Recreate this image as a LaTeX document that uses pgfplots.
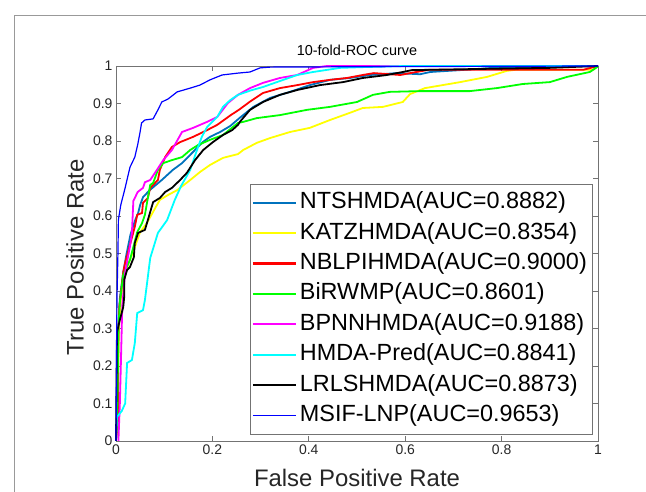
\documentclass[border=0pt]{standalone}
\usepackage{pgfplots}
\pgfplotsset{compat=1.18}
\usepackage{fontspec}
\setmainfont{Liberation Sans}
\definecolor{ntsblue}{rgb}{0,0.447,0.741}
\definecolor{cY}{rgb}{1,1,0}
\definecolor{cR}{rgb}{1,0,0}
\definecolor{cG}{rgb}{0,1,0}
\definecolor{cM}{rgb}{1,0,1}
\definecolor{cC}{rgb}{0,1,1}
\definecolor{cK}{rgb}{0,0,0}
\definecolor{cB}{rgb}{0,0,1}
\definecolor{axgray}{rgb}{0.45,0.45,0.45}
\definecolor{lblgray}{rgb}{0.15,0.15,0.15}
\pgfplotsset{
  limg/.style 2 args={legend image code/.code={\draw[#1,line width=#2] (0bp,0bp) -- (43bp,0bp);}},
}
\begin{document}
\begin{tikzpicture}[x=1bp,y=1bp]
\path[use as bounding box] (0,0) rectangle (646,492);
\draw[black!40,line width=0.8bp] (14,0) -- (14,477) -- (646,477);
\begin{axis}[
  at={(116bp,51bp)}, anchor=south west,
  scale only axis, width=482bp, height=375bp,
  xmin=0, xmax=1, ymin=0, ymax=1,
  clip=false,
  xtick={0,0.2,0.4,0.6,0.8,1},
  ytick={0,0.1,0.2,0.3,0.4,0.5,0.6,0.7,0.8,0.9,1},
  xticklabels={0,0.2,0.4,0.6,0.8,1},
  yticklabels={0,0.1,0.2,0.3,0.4,0.5,0.6,0.7,0.8,0.9,1},
  tick align=inside,
  major tick length=5bp,
  axis line style={axgray,line width=0.7bp},
  tick style={axgray,line width=0.7bp},
  /pgf/number format/assume math mode=true,
  ticklabel style={font=\fontsize{14}{16}\selectfont, text=lblgray},
  title={10-fold-ROC curve},
  title style={at={(axis description cs:0.5,1)}, anchor=base, yshift=4.5bp, font=\fontsize{14.5}{16}\selectfont, text=black},
  xlabel={False Positive Rate},
  xlabel style={at={(axis description cs:0.5,-0.122)}, anchor=base, font=\fontsize{24}{28}\selectfont, text=lblgray},
  ylabel={True Positive Rate},
  ylabel style={at={(axis description cs:-0.085,0.49)}, anchor=center, font=\fontsize{24}{28}\selectfont, text=lblgray},
  legend cell align=left,
  legend style={at={(rel axis cs:0.9876,0.0187)}, anchor=south east,
    draw=axgray, fill=white,
    font=\fontsize{23.5}{28}\selectfont,
    inner xsep=2bp, inner ysep=3bp, row sep=0pt,
    nodes={inner xsep=3bp, inner ysep=4.2bp, text height=17bp, text depth=5bp}},
]
\addplot[ntsblue, line width=1.8bp, limg={ntsblue}{2.2bp}] coordinates {
(0,0)(0.003,0.1)(0.005,0.3)(0.008,0.38)(0.015,0.45)(0.022,0.5)(0.030,0.55)(0.040,0.59)(0.046,0.608)(0.050,0.629)(0.056,0.65)(0.070,0.669)(0.095,0.696)(0.118,0.723)(0.137,0.741)(0.160,0.771)(0.180,0.797)(0.195,0.811)(0.216,0.824)(0.237,0.840)(0.257,0.862)(0.285,0.891)(0.320,0.915)(0.361,0.931)(0.402,0.949)(0.444,0.963)(0.485,0.968)(0.527,0.976)(0.583,0.981)(0.631,0.978)(0.652,0.984)(0.714,0.989)(0.782,0.995)(0.85,0.997)(1,1)};
\addlegendentry{NTSHMDA(AUC=0.8882)}
\addplot[cY, line width=1.8bp, limg={cY}{2.2bp}] coordinates {
(0,0)(0.003,0.1)(0.006,0.3)(0.010,0.38)(0.019,0.45)(0.029,0.483)(0.039,0.517)(0.050,0.557)(0.064,0.581)(0.077,0.611)(0.091,0.643)(0.108,0.656)(0.127,0.669)(0.149,0.691)(0.154,0.696)(0.174,0.717)(0.195,0.736)(0.222,0.755)(0.253,0.765)(0.264,0.776)(0.292,0.795)(0.320,0.808)(0.361,0.824)(0.402,0.835)(0.444,0.856)(0.485,0.875)(0.512,0.888)(0.554,0.891)(0.595,0.904)(0.610,0.925)(0.641,0.941)(0.714,0.957)(0.770,0.971)(0.811,0.987)(0.83,0.99)(0.99,0.99)(1,1)};
\addlegendentry{KATZHMDA(AUC=0.8354)}
\addplot[cR, line width=1.8bp, limg={cR}{2.2bp}] coordinates {
(0,0)(0.004,0.05)(0.005,0.3)(0.007,0.36)(0.015,0.45)(0.019,0.475)(0.025,0.504)(0.039,0.571)(0.044,0.603)(0.054,0.608)(0.056,0.635)(0.066,0.648)(0.071,0.675)(0.087,0.696)(0.091,0.723)(0.102,0.757)(0.116,0.784)(0.133,0.797)(0.160,0.811)(0.189,0.829)(0.210,0.843)(0.237,0.868)(0.257,0.885)(0.278,0.905)(0.305,0.928)(0.340,0.941)(0.376,0.949)(0.409,0.957)(0.444,0.963)(0.479,0.968)(0.512,0.976)(0.535,0.981)(0.59,0.976)(0.61,0.981)(0.65,0.99)(0.97,0.99)(1,1)};
\addlegendentry{NBLPIHMDA(AUC=0.9000)}
\addplot[cG, line width=1.8bp, limg={cG}{2.2bp}] coordinates {
(0,0)(0.003,0.1)(0.005,0.3)(0.008,0.37)(0.015,0.443)(0.029,0.483)(0.044,0.557)(0.054,0.581)(0.060,0.603)(0.066,0.648)(0.071,0.683)(0.077,0.688)(0.087,0.723)(0.098,0.741)(0.116,0.749)(0.137,0.757)(0.154,0.776)(0.170,0.789)(0.195,0.803)(0.222,0.816)(0.253,0.848)(0.264,0.851)(0.292,0.861)(0.340,0.869)(0.396,0.883)(0.444,0.891)(0.500,0.904)(0.533,0.923)(0.568,0.931)(0.631,0.933)(0.734,0.933)(0.790,0.941)(0.844,0.952)(0.900,0.957)(0.936,0.971)(0.983,0.984)(0.998,0.997)(1,1)};
\addlegendentry{BiRWMP(AUC=0.8601)}
\addplot[cM, line width=1.8bp, limg={cM}{2.2bp}] coordinates {
(0.005,0)(0.008,0.1)(0.010,0.2)(0.013,0.36)(0.019,0.45)(0.029,0.52)(0.033,0.555)(0.036,0.64)(0.045,0.664)(0.056,0.675)(0.060,0.69)(0.071,0.696)(0.085,0.723)(0.098,0.749)(0.116,0.776)(0.137,0.824)(0.160,0.835)(0.189,0.851)(0.210,0.864)(0.232,0.901)(0.253,0.923)(0.278,0.941)(0.305,0.955)(0.340,0.968)(0.376,0.976)(0.409,0.995)(0.438,1)(1,1)};
\addlegendentry{BPNNHMDA(AUC=0.9188)}
\addplot[cC, line width=1.8bp, limg={cC}{2.2bp}] coordinates {
(0,0)(0.002,0.064)(0.012,0.08)(0.019,0.10)(0.023,0.208)(0.033,0.216)(0.039,0.261)(0.044,0.341)(0.056,0.349)(0.060,0.376)(0.071,0.488)(0.087,0.555)(0.106,0.589)(0.122,0.643)(0.135,0.68)(0.154,0.723)(0.168,0.776)(0.178,0.811)(0.189,0.837)(0.210,0.864)(0.222,0.891)(0.237,0.909)(0.253,0.923)(0.280,0.935)(0.305,0.944)(0.347,0.963)(0.376,0.976)(0.409,0.984)(0.465,0.995)(0.512,0.997)(0.6,1)(1,1)};
\addlegendentry{HMDA-Pred(AUC=0.8841)}
\addplot[cK, line width=1.8bp, limg={cK}{2.2bp}] coordinates {
(0,0)(0.002,0.29)(0.008,0.323)(0.015,0.357)(0.017,0.384)(0.017,0.43)(0.023,0.456)(0.029,0.464)(0.037,0.49)(0.039,0.528)(0.046,0.555)(0.060,0.563)(0.066,0.589)(0.077,0.637)(0.091,0.648)(0.102,0.664)(0.116,0.675)(0.133,0.696)(0.147,0.715)(0.164,0.749)(0.181,0.776)(0.201,0.797)(0.222,0.816)(0.241,0.829)(0.253,0.843)(0.257,0.851)(0.278,0.883)(0.305,0.904)(0.340,0.923)(0.376,0.936)(0.423,0.949)(0.471,0.957)(0.512,0.968)(0.562,0.976)(0.595,0.984)(0.614,0.989)(0.75,0.992)(0.9,0.995)(1,1)};
\addlegendentry{LRLSHMDA(AUC=0.8873)}
\addplot[cB, line width=1.2bp, limg={cB}{1.8bp}] coordinates {
(0,0)(0.001,0.2)(0.002,0.38)(0.004,0.5)(0.005,0.59)(0.010,0.63)(0.018,0.67)(0.029,0.73)(0.039,0.757)(0.045,0.79)(0.050,0.824)(0.053,0.848)(0.060,0.856)(0.077,0.859)(0.087,0.883)(0.095,0.904)(0.108,0.912)(0.127,0.931)(0.154,0.941)(0.174,0.949)(0.195,0.963)(0.220,0.976)(0.253,0.981)(0.278,0.984)(0.299,0.995)(0.320,0.997)(0.5,0.998)(1,1)};
\addlegendentry{MSIF-LNP(AUC=0.9653)}
\end{axis}
\end{tikzpicture}
\end{document}
